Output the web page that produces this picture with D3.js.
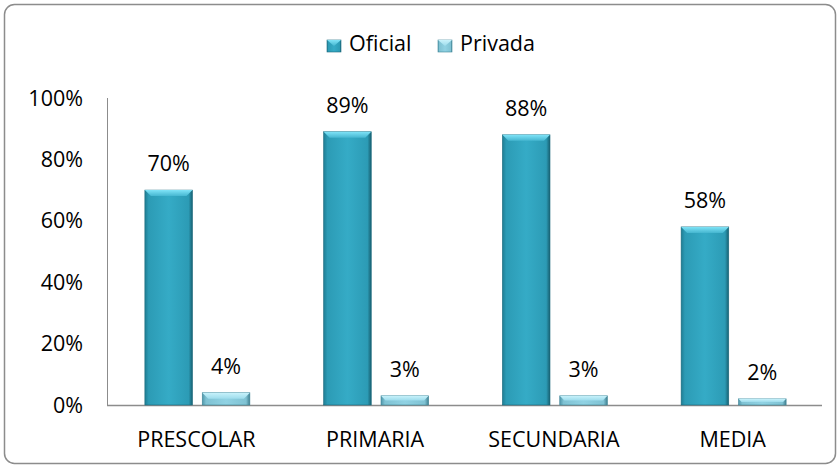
<!DOCTYPE html>
<html><head><meta charset="utf-8">
<script src="https://cdn.jsdelivr.net/npm/d3@7/dist/d3.min.js"></script>
<style>body{margin:0;background:#fff;}text{font-family:"Open Sans",sans-serif;fill:#000;}</style>
</head><body><svg id="c" width="840" height="468"></svg>
<script>
const categories = ["PRESCOLAR","PRIMARIA","SECUNDARIA","MEDIA"];
const seriesNames = ["Oficial","Privada"];
const oficial = [70,89,88,58];
const privada = [4,3,3,2];
const yTicks = [0,20,40,60,80,100];

const svg = d3.select("#c");
svg.append("rect").attr("x",4.5).attr("y",4.5).attr("width",831).attr("height",459)
  .attr("rx",10).attr("fill","#fff").attr("stroke","#8c8c8c").attr("stroke-width",1.5);

const defs = svg.append("defs");
function grad(id, stops, vertical){
  const g = defs.append("linearGradient").attr("id",id).attr("x1","0").attr("x2",vertical?"0":"1").attr("y1","0").attr("y2",vertical?"1":"0");
  stops.forEach(s=>g.append("stop").attr("offset",s[0]).attr("stop-color",s[1]));
}
grad("gOf",[[0,"#1f7d93"],[0.08,"#2c9bb5"],[0.5,"#35abc6"],[0.92,"#2c9bb5"],[1,"#175f70"]]);
grad("gPr",[[0,"#4f97aa"],[0.08,"#7fc2d3"],[0.5,"#90d2e3"],[0.92,"#7fc2d3"],[1,"#3f7f90"]]);
grad("bOf",[[0,"#7fe3f7"],[1,"#45b6d0"]],true);
grad("bPr",[[0,"#c8f2fb"],[1,"#9ddcec"]],true);
const colors = {Oficial:"url(#gOf)", Privada:"url(#gPr)"};
const bevel = {Oficial:"url(#bOf)", Privada:"url(#bPr)"};
const strokes = {Oficial:"#1b6a7d", Privada:"#3f8597"};

const x0 = d3.scaleBand().domain(categories).range([107,822]).paddingInner(0).paddingOuter(0);
const groupW = 105;
const x1 = d3.scaleBand().domain(seriesNames).range([0,groupW]).paddingInner(0.17);
const y = d3.scaleLinear().domain([0,100]).range([405,98]);

const FS = 21.5;
// y axis labels
svg.append("g").selectAll("text").data(yTicks).join("text")
  .attr("x",83).attr("y",d=>y(d)).attr("dy","0.35em").attr("text-anchor","end")
  .attr("font-size",FS).text(d=>d+"%");

// axis lines
svg.append("line").attr("x1",107.5).attr("x2",107.5).attr("y1",y(100)).attr("y2",y(0)).attr("stroke","#8c8c8c").attr("stroke-width",1);
svg.append("line").attr("x1",107).attr("x2",822).attr("y1",y(0)+0.5).attr("y2",y(0)+0.5).attr("stroke","#8c8c8c").attr("stroke-width",1.5);

const data = categories.map((c,i)=>({cat:c, vals:[{s:"Oficial",v:oficial[i]},{s:"Privada",v:privada[i]}]}));
const groups = svg.append("g").selectAll("g").data(data).join("g")
  .attr("transform",d=>`translate(${x0(d.cat)+x0.bandwidth()/2-groupW/2+1},0)`);

groups.each(function(d){
  const g = d3.select(this);
  d.vals.forEach(o=>{
    const bx = x1(o.s), bw = x1.bandwidth(), by = y(o.v), bh = y(0)-y(o.v);
    g.append("rect").attr("x",bx).attr("y",by).attr("width",bw).attr("height",bh)
      .attr("fill",colors[o.s]).attr("stroke", strokes[o.s]).attr("stroke-width",0.6);
    const b = Math.min(6, bh/2);
    g.append("path").attr("d",`M${bx},${by}L${bx+bw},${by}L${bx+bw-b},${by+b}L${bx+b},${by+b}Z`)
      .attr("fill",bevel[o.s]);
    g.append("text").attr("x",bx+bw/2).attr("y",by-19).attr("text-anchor","middle")
      .attr("font-size",FS).text(o.v+"%");
  });
});

// category labels
svg.append("g").selectAll("text").data(categories).join("text")
  .attr("x",d=>x0(d)+x0.bandwidth()/2).attr("y",447).attr("text-anchor","middle")
  .attr("font-size",FS).text(d=>d);

// legend
const leg = svg.append("g");
const legX = [327,438];
seriesNames.forEach((s,i)=>{
  leg.append("rect").attr("x",legX[i]).attr("y",40).attr("width",14).attr("height",12)
    .attr("fill",colors[s]).attr("stroke",strokes[s]).attr("stroke-width",0.6);
  leg.append("path").attr("d",`M${legX[i]},40L${legX[i]+14},40L${legX[i]+7},46Z`).attr("fill",bevel[s]);
  leg.append("text").attr("x",legX[i]+22).attr("y",51).attr("font-size",FS).text(s);
});
</script></body></html>
